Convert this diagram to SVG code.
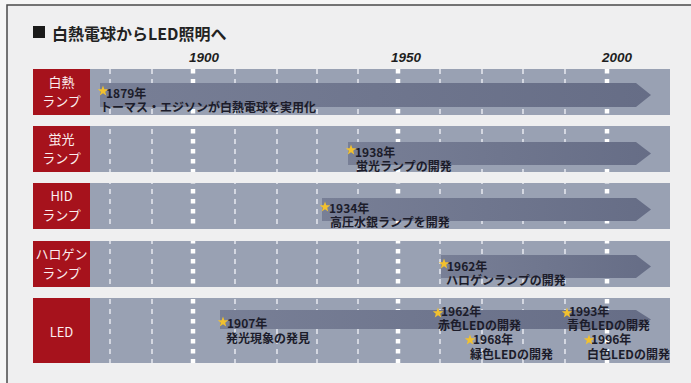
<svg xmlns="http://www.w3.org/2000/svg" width="691" height="383" viewBox="0 0 691 383">
  <defs>
    <style>
      .title { font-family: "Noto Sans CJK JP", "Noto Sans", sans-serif; font-size: 16px; font-weight: bold; fill: #222; }
      .year { font-family: "Liberation Sans", Arial, sans-serif; font-size: 13.5px; font-weight: bold; font-style: italic; fill: #1e1e1e; text-anchor: middle; }
      .lbl { font-family: "Noto Sans CJK JP", "Noto Sans", sans-serif; font-size: 13px; fill: #fbeeee; text-anchor: middle; }
      .ev { font-family: "Noto Sans CJK JP", "Noto Sans", sans-serif; font-size: 12px; font-weight: bold; fill: #1c1c2a; }
      .red { fill: #a6121c; }
      .bar { fill: #99a1b3; }
      .arrow { fill: url(#arrowGrad); }
      .thin { stroke: #eef0f6; stroke-width: 1.6; stroke-dasharray: 5 5; fill: none; opacity: 0.85; }
      .thick { stroke: #ffffff; stroke-width: 4.5; stroke-dasharray: 4.5 5.5; fill: none; }
    </style>
    <linearGradient id="arrowGrad" x1="0" y1="0" x2="1" y2="0">
      <stop offset="0" stop-color="#787f96"/>
      <stop offset="1" stop-color="#666d86"/>
    </linearGradient>
    <path id="star" d="M0,-5.5 L1.35,-1.86 L5.23,-1.70 L2.19,0.71 L3.23,4.45 L0,2.3 L-3.23,4.45 L-2.19,0.71 L-5.23,-1.70 L-1.35,-1.86 Z" fill="#f2c12e"/>
    <clipPath id="bars">
      <rect x="90" y="69" width="580" height="46"/>
      <rect x="90" y="126" width="580" height="46"/>
      <rect x="90" y="183" width="580" height="46"/>
      <rect x="90" y="241" width="580" height="46"/>
      <rect x="90" y="298" width="580" height="65"/>
    </clipPath>
  </defs>

  <rect x="0" y="0" width="691" height="383" fill="#f6f6f6"/>
  <rect x="7" y="5" width="700" height="400" fill="#efeff0" stroke="#4a4a4a" stroke-width="1.5"/>

  <g id="title">
    <rect x="33" y="26" width="12" height="12" fill="#1a1a1a"/>
    <text class="title" x="52" y="40">白熱電球からLED照明へ</text>
  </g>

  <g id="years">
    <text class="year" x="204" y="62">1900</text>
    <text class="year" x="406" y="62">1950</text>
    <text class="year" x="617" y="62">2000</text>
  </g>

  <g id="bars-bg">
    <rect class="bar" x="90" y="69" width="580" height="46"/>
    <rect class="bar" x="90" y="126" width="580" height="46"/>
    <rect class="bar" x="90" y="183" width="580" height="46"/>
    <rect class="bar" x="90" y="241" width="580" height="46"/>
    <rect class="bar" x="90" y="298" width="580" height="65"/>
  </g>

  <g id="gridlines" clip-path="url(#bars)">
    <path class="thin" d="M110,69V363 M152,69V363 M235,69V363 M277,69V363 M317,69V363 M358,69V363 M440,69V363 M482,69V363 M523,69V363 M565,69V363"/>
    <path class="thick" d="M193,69V363 M398,69V363 M607,69V363"/>
  </g>

  <g id="connectors">
    <polygon class="arrow" points="100,83 636,83 651,95 636,107 100,107"/>
    <polygon class="arrow" points="348,142 636,142 651,153.5 636,165 348,165"/>
    <polygon class="arrow" points="322,198 636,198 651,209.5 636,221 322,221"/>
    <polygon class="arrow" points="441,255 636,255 651,266.5 636,278 441,278"/>
    <polygon class="arrow" points="220,310 636,310 651,319.5 636,329 220,329"/>
  </g>

  <g id="incandescent">
    <rect class="red" x="33" y="69" width="57" height="46"/>
    <text class="lbl" x="61.5" y="87">白熱</text>
    <text class="lbl" x="61.5" y="106">ランプ</text>
    <use href="#star" x="103" y="91"/>
    <text class="ev" x="106" y="98">1879年</text>
    <text class="ev" x="100" y="112">トーマス・エジソンが白熱電球を実用化</text>
  </g>

  <g id="fluorescent">
    <rect class="red" x="33" y="126" width="57" height="46"/>
    <text class="lbl" x="61.5" y="144">蛍光</text>
    <text class="lbl" x="61.5" y="163">ランプ</text>
    <use href="#star" x="351" y="150"/>
    <text class="ev" x="355" y="157">1938年</text>
    <text class="ev" x="356" y="171">蛍光ランプの開発</text>
  </g>

  <g id="hid">
    <rect class="red" x="33" y="183" width="57" height="46"/>
    <text class="lbl" x="61.5" y="201">HID</text>
    <text class="lbl" x="61.5" y="220">ランプ</text>
    <use href="#star" x="325" y="207"/>
    <text class="ev" x="329" y="213">1934年</text>
    <text class="ev" x="330" y="227">高圧水銀ランプを開発</text>
  </g>

  <g id="halogen">
    <rect class="red" x="33" y="241" width="57" height="46"/>
    <text class="lbl" x="61.5" y="259">ハロゲン</text>
    <text class="lbl" x="61.5" y="278">ランプ</text>
    <use href="#star" x="444" y="264"/>
    <text class="ev" x="447" y="271">1962年</text>
    <text class="ev" x="446" y="285">ハロゲンランプの開発</text>
  </g>

  <g id="led">
    <rect class="red" x="33" y="298" width="57" height="65"/>
    <text class="lbl" x="61.5" y="337">LED</text>
    <use href="#star" x="223" y="322"/>
    <text class="ev" x="227" y="328">1907年</text>
    <text class="ev" x="226" y="343">発光現象の発見</text>
    <use href="#star" x="438" y="313"/>
    <text class="ev" x="441" y="316">1962年</text>
    <text class="ev" x="438" y="330">赤色LEDの開発</text>
    <use href="#star" x="470" y="340"/>
    <text class="ev" x="473" y="344">1968年</text>
    <text class="ev" x="470" y="359">緑色LEDの開発</text>
    <use href="#star" x="567" y="313"/>
    <text class="ev" x="569" y="316">1993年</text>
    <text class="ev" x="567" y="330">青色LEDの開発</text>
    <use href="#star" x="589" y="340"/>
    <text class="ev" x="591" y="344">1996年</text>
    <text class="ev" x="587" y="359">白色LEDの開発</text>
  </g>
</svg>
